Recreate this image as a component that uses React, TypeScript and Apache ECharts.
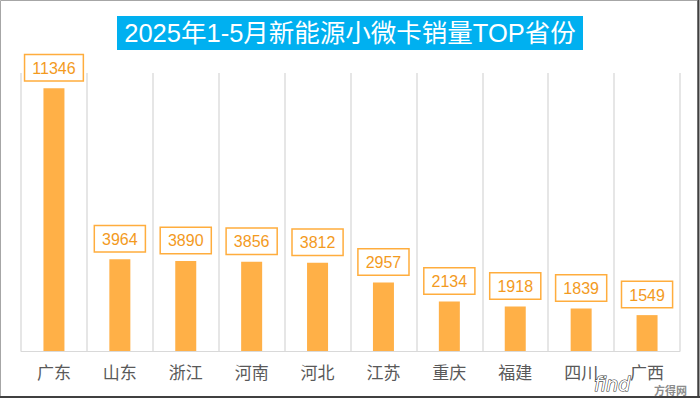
import React, { useEffect, useRef } from "react";
import * as echarts from "echarts";

const titleText = "2025年1-5月新能源小微卡销量TOP省份";
const provinces = ["广东", "山东", "浙江", "河南", "河北", "江苏", "重庆", "福建", "四川", "广西"];
const sales = [11346, 3964, 3890, 3856, 3812, 2957, 2134, 1918, 1839, 1549];

const FONT = "'Liberation Sans', Arial, 'Noto Sans CJK SC', sans-serif";

export default function App() {
  const ref = useRef<HTMLDivElement>(null);
  useEffect(() => {
    if (!ref.current) return;
    const chart = echarts.init(ref.current, undefined, { renderer: "svg" });
    chart.setOption({
      animation: false,
      backgroundColor: "#ffffff",
      textStyle: { fontFamily: FONT },
      grid: { left: 21, right: 20, top: 73, bottom: 47, containLabel: false },
      xAxis: {
        type: "category",
        data: provinces,
        axisLine: { show: true, lineStyle: { color: "#d9d9d9", width: 1 } },
        axisTick: { show: false },
        splitLine: { show: true, lineStyle: { color: "#dedede", width: 1.5 } },
        axisLabel: { color: "#595959", fontSize: 17, margin: 12, fontFamily: "'Noto Sans CJK SC', sans-serif" },
      },
      yAxis: {
        type: "value",
        min: 0,
        max: 12000,
        show: false,
        splitLine: { show: false },
      },
      series: [
        {
          type: "bar",
          data: sales,
          barWidth: 21,
          itemStyle: { color: "#ffb047" },
          label: {
            show: true,
            position: "top",
            distance: 8,
            color: "#f39a1e",
            fontSize: 16,
            fontFamily: FONT,
            backgroundColor: "#ffffff",
            borderColor: "#ffad3d",
            borderWidth: 1.5,
            padding: [5, 7, 4, 7],
          },
        },
      ],
      graphic: [
        {
          type: "rect",
          shape: { x: 0.5, y: 0.5, width: 697, height: 396 },
          style: { fill: "none", stroke: "#a6a6a6", lineWidth: 1 },
          z: 100,
        },
        {
          type: "line",
          shape: { x1: 698.5, y1: 0, x2: 698.5, y2: 398 },
          style: { stroke: "#404040", lineWidth: 2 },
          z: 100,
        },
        {
          type: "line",
          shape: { x1: 0, y1: 397, x2: 700, y2: 397 },
          style: { stroke: "#404040", lineWidth: 2 },
          z: 100,
        },
        {
          type: "rect",
          shape: { x: 117, y: 16, width: 466, height: 34 },
          style: { fill: "#00b0f0" },
        },
        {
          type: "text",
          x: 350,
          y: 33,
          style: {
            text: titleText,
            fill: "#ffffff",
            fontSize: 25.5,
            fontFamily: FONT,
            align: "center",
            verticalAlign: "middle",
          },
        },
        {
          type: "text",
          x: 594,
          y: 384,
          style: {
            text: "find",
            fill: "#ffffff",
            stroke: "#333333",
            lineWidth: 1.1,
            fontSize: 19,
            fontStyle: "italic",
            fontFamily: "'DejaVu Sans', sans-serif",
            verticalAlign: "middle",
          },
          z: 50,
        },
        {
          type: "text",
          x: 654,
          y: 390,
          style: {
            text: "方得网",
            fill: "#8c8c8c",
            fontSize: 11,
            fontWeight: "bold",
            fontFamily: "'Noto Sans CJK SC', sans-serif",
            verticalAlign: "middle",
          },
          z: 50,
        },
      ],
    });
    return () => chart.dispose();
  }, []);
  return (
    <div
      ref={ref}
      style={{ position: "fixed", left: 0, top: 0, width: 700, height: 398 }}
    />
  );
}
